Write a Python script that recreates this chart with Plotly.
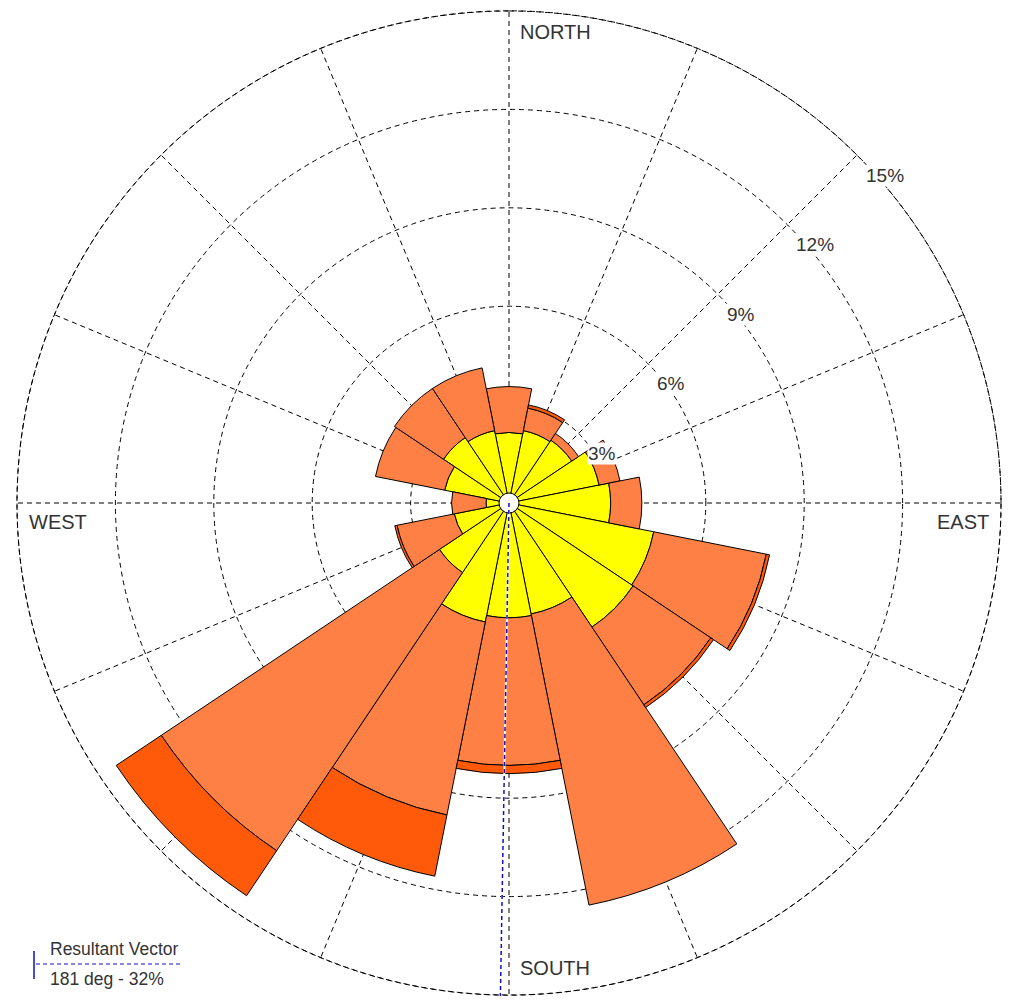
import numpy as np
import plotly.graph_objects as go

# 16 compass sectors, clockwise from north
directions = ["N", "NNE", "NE", "ENE", "E", "ESE", "SE", "SSE",
              "S", "SSW", "SW", "WSW", "W", "WNW", "NW", "NNW"]
sector_deg = [0, 22.5, 45, 67.5, 90, 112.5, 135, 157.5,
              180, 202.5, 225, 247.5, 270, 292.5, 315, 337.5]

# frequency (%) per wind-speed class, stacked outward
class_low = [2.15, 2.25, 2.3, 2.8, 3.1, 4.5, 4.55, 3.45,
             3.5, 3.7, 2.55, 1.7, 0.7, 2.0, 2.4, 2.25]
class_mid = [1.4, 0.7, 0.25, 0.65, 0.95, 3.5, 2.85, 9.05,
             4.5, 6.0, 10.2, 1.78, 1.05, 2.15, 1.8, 1.95]
class_high = [0, 0.1, 0, 0, 0, 0.1, 0.1, 0,
              0.25, 1.9, 1.65, 0.07, 0, 0, 0, 0]

class_colors = ["#FFFF00", "#FF8045", "#FF5A0A"]

ring_values = [3, 6, 9, 12, 15]
ring_labels = ["3%", "6%", "9%", "12%", "15%"]
ring_label_deg = 45
compass_names = ["NORTH", "EAST", "SOUTH", "WEST"]
compass_deg = [0, 90, 180, 270]

resultant_dir = 181
resultant_pct = 32

R_MAX = 15          # outermost ring
R_EDGE = 15.04      # axis edge a hair beyond it so the ring's stroke is not clipped
W, H = 1009, 1006
CX, CY, RAD = 509, 503, 492  # plot centre and outer-ring radius in pixels
RAD_EDGE = RAD * R_EDGE / R_MAX
FONT = "Liberation Sans, Arial"
TEXT_COL = "#333333"
VEC_COL = "#1010C0"
grid_dash = "5px,4px"


def px(x):
    return x / W


def py(y):
    return (H - y) / H


def polar_to_px(r, deg):
    a = np.radians(deg)
    return CX + r / R_MAX * RAD * np.sin(a), CY - r / R_MAX * RAD * np.cos(a)


fig = go.Figure()

# outer ring
ring_theta = np.linspace(0, 360, 721)
fig.add_trace(go.Scatterpolar(
    r=np.full(ring_theta.shape, R_MAX), theta=ring_theta, mode="lines",
    line=dict(color="black", width=1, dash=grid_dash),
    hoverinfo="skip", showlegend=False,
))

for vals, col in zip([class_low, class_mid, class_high], class_colors):
    fig.add_trace(go.Barpolar(
        r=vals, theta=sector_deg, width=[22.5] * len(vals),
        marker=dict(color=col, line=dict(color="black", width=1)),
        hoverinfo="skip", showlegend=False,
    ))

# calm circle at the centre
fig.add_trace(go.Scatterpolar(
    r=[0], theta=[0], mode="markers",
    marker=dict(size=20, color="white", line=dict(color="black", width=1)),
    hoverinfo="skip", showlegend=False,
))

# resultant vector: white underlay with blue dashes on top
for col, dash, wd in [("white", "solid", 2), (VEC_COL, "4px,3px", 1.5)]:
    fig.add_trace(go.Scatterpolar(
        r=[0, R_EDGE], theta=[resultant_dir, resultant_dir], mode="lines",
        line=dict(color=col, width=wd, dash=dash), cliponaxis=False,
        hoverinfo="skip", showlegend=False,
    ))

fig.update_layout(
    width=W, height=H,
    margin=dict(l=0, r=0, t=0, b=0),
    paper_bgcolor="white", plot_bgcolor="white",
    showlegend=False,
    polar=dict(
        domain=dict(x=[(CX - RAD_EDGE) / W, (CX + RAD_EDGE) / W],
                    y=[(H - CY - RAD_EDGE) / H, (H - CY + RAD_EDGE) / H]),
        bgcolor="white",
        barmode="stack",
        radialaxis=dict(range=[0, R_EDGE], tickvals=ring_values,
                        showticklabels=False, ticks="", showline=False,
                        gridcolor="black", gridwidth=1, griddash=grid_dash),
        angularaxis=dict(rotation=90, direction="clockwise",
                         tickvals=sector_deg, showticklabels=False, ticks="",
                         showline=False,
                         gridcolor="black", gridwidth=1, griddash=grid_dash),
    ),
)

# ring percentage labels, just below-right of where each ring meets the NE spoke
for rv, lab in zip(ring_values, ring_labels):
    x, y = polar_to_px(rv, ring_label_deg)
    fig.add_annotation(xref="paper", yref="paper", x=px(x), y=py(y),
                       xanchor="left", yanchor="middle", xshift=8, yshift=-20,
                       showarrow=False, text=lab, bgcolor="white", borderpad=0,
                       font=dict(family=FONT, size=19, color=TEXT_COL))

# compass point names just inside the outer ring
compass_anchor = {
    "NORTH": ("left", "middle", 9, -21),
    "EAST": ("right", "middle", -10, -19),
    "SOUTH": ("left", "middle", 9, 27),
    "WEST": ("left", "middle", 10, -19),
}
for name, deg in zip(compass_names, compass_deg):
    x, y = polar_to_px(R_MAX, deg)
    xa, ya, xs, ys = compass_anchor[name]
    fig.add_annotation(xref="paper", yref="paper", x=px(x), y=py(y),
                       xanchor=xa, yanchor=ya, xshift=xs, yshift=ys,
                       showarrow=False, text=name,
                       font=dict(family=FONT, size=20, color=TEXT_COL))

# resultant vector key, bottom left
fig.add_shape(type="line", xref="paper", yref="paper",
              x0=px(34), x1=px(34), y0=py(951), y1=py(979),
              line=dict(color=VEC_COL, width=1.5))
fig.add_shape(type="line", xref="paper", yref="paper",
              x0=px(36), x1=px(183), y0=py(964), y1=py(964),
              line=dict(color=VEC_COL, width=1, dash="4px,3px"))
fig.add_annotation(xref="paper", yref="paper", x=px(48), y=py(949),
                   xanchor="left", yanchor="middle", showarrow=False,
                   text="Resultant Vector",
                   font=dict(family=FONT, size=17.5, color=TEXT_COL))
fig.add_annotation(xref="paper", yref="paper", x=px(48), y=py(979),
                   xanchor="left", yanchor="middle", showarrow=False,
                   text=f"{resultant_dir} deg - {resultant_pct}%",
                   font=dict(family=FONT, size=17.5, color=TEXT_COL))

fig.write_html("out.html")
